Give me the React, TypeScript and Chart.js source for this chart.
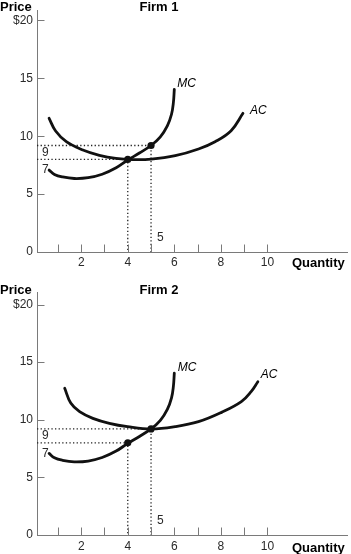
import React, { useEffect, useRef } from "react";
import { Chart, registerables } from "chart.js";

Chart.register(...registerables);

// ---------- data ----------
const QUANTITY_TICKS = [2, 4, 6, 8, 10];
const QUANTITY_MARKS = [1, 2, 3, 4, 5, 6, 7, 8, 9, 10];
const PRICE_TICKS = [0, 5, 10, 15, 20];
const PRICE_TICK_LABELS = ["0", "5", "10", "15", "$20"];

// Marginal cost (same for both firms)
const MC_Q = [0.62, 0.85, 1.2, 1.7, 2.3, 2.9, 3.5, 4.0, 4.5, 5.0, 5.4, 5.7, 5.88, 5.96, 6.0];
const MC_P = [7.08, 6.7, 6.48, 6.35, 6.42, 6.72, 7.28, 7.95, 8.55, 9.2, 9.95, 10.9, 11.9, 12.9, 14.05];

// Average cost, Firm 1
const AC1_Q = [0.62, 0.9, 1.36, 2.07, 2.78, 3.49, 4.2, 5.01, 6.04, 7.04, 7.75, 8.44, 8.95];
const AC1_P = [11.55, 10.45, 9.53, 8.81, 8.35, 8.08, 7.98, 8.02, 8.32, 8.9, 9.53, 10.48, 11.98];

// Average cost, Firm 2
const AC2_Q = [1.29, 1.55, 1.93, 2.5, 3.21, 3.99, 5.01, 6.04, 7.04, 8.03, 8.88, 9.3, 9.59];
const AC2_P = [12.73, 11.45, 10.7, 10.12, 9.69, 9.4, 9.2, 9.4, 9.83, 10.64, 11.57, 12.44, 13.3];

// Marked points
const DOT_Q = [4, 5];
const DOT1_P = [8, 9.2];
const DOT2_P = [8, 9.2];

const POINT_LABELS = ["7", "9", "5"];

// ---------- styling ----------
const FONT = "'Liberation Sans', Arial, Helvetica, sans-serif";
const AXIS_COLOR = "#7a7a7a";
const TEXT_COLOR = "#2a2a2a";
const CURVE_COLOR = "#111111";
const X_MIN = 0.1;
const X_MAX = 13.42;
const TICK_SIZE = 12;

Chart.defaults.font.family = FONT;

type TextItem = {
  text: string;
  font: string;
  color?: string;
  align?: CanvasTextAlign;
  px?: number;
  py?: number;
  x?: number;
  y?: number;
  dx?: number;
  dy?: number;
};

const econPlugin = {
  id: "econ",
  afterDatasetsDraw(chart: any, _args: any, opts: any) {
    const ctx: CanvasRenderingContext2D = chart.ctx;
    const xs = chart.scales.x;
    const ys = chart.scales.y;
    ctx.save();
    // inward tick marks
    ctx.strokeStyle = AXIS_COLOR;
    ctx.lineWidth = 1;
    ctx.beginPath();
    const bottom = Math.round(ys.bottom) + 0.5;
    for (const v of QUANTITY_MARKS) {
      const x = Math.round(xs.getPixelForValue(v)) + 0.5;
      ctx.moveTo(x, bottom);
      ctx.lineTo(x, bottom - 8);
    }
    const left = Math.round(xs.left) + 0.5;
    for (const v of PRICE_TICKS) {
      if (v === 0) continue;
      const y = Math.round(ys.getPixelForValue(v)) + 0.5;
      ctx.moveTo(left, y);
      ctx.lineTo(left + 7, y);
    }
    ctx.stroke();
    // texts
    const texts: TextItem[] = opts.texts || [];
    for (const t of texts) {
      ctx.font = t.font;
      ctx.fillStyle = t.color || "#000";
      ctx.textAlign = t.align || "left";
      ctx.textBaseline = "middle";
      const x = t.px !== undefined ? t.px : xs.getPixelForValue(t.x) + (t.dx || 0);
      const y = t.py !== undefined ? t.py : ys.getPixelForValue(t.y) + (t.dy || 0);
      ctx.fillText(t.text, x, y);
    }
    ctx.restore();
  },
};

type Spec = {
  title: string;
  acQ: number[];
  acP: number[];
  dotP: number[];
  yMax: number;
  padTop: number;
  xAxisH: number;
  xPad: number;
  headY: number;
  quantDy: number;
  mcOff: [number, number];
  acOff: [number, number];
  nineDy: number;
  sevenDy: number;
  fiveDy: number;
};

function pts(qs: number[], ps: number[]) {
  return qs.map((q, i) => ({ x: q, y: ps[i] }));
}

function buildConfig(spec: Spec): any {
  const guideStyle = {
    borderColor: "#222",
    borderWidth: 1.3,
    borderDash: [1.3, 2.3],
    pointRadius: 0,
    tension: 0,
    fill: false,
  };
  const curveStyle = {
    borderColor: CURVE_COLOR,
    borderWidth: 2.8,
    pointRadius: 0,
    tension: 0.4,
    fill: false,
    borderCapStyle: "round",
  };
  const guides = DOT_Q.map((q, i) => ({
    ...guideStyle,
    label: "guide" + i,
    data: [
      { x: X_MIN, y: spec.dotP[i] },
      { x: q, y: spec.dotP[i] },
      { x: q, y: 0 },
    ],
  }));
  const lastMC = MC_Q.length - 1;
  const lastAC = spec.acQ.length - 1;
  const small = `${TICK_SIZE}px ${FONT}`;
  const texts: TextItem[] = [
    { text: "Price", font: `bold 13px ${FONT}`, px: 0, py: spec.headY },
    { text: spec.title, font: `bold 13px ${FONT}`, px: 159, py: spec.headY, align: "center" },
    { text: "Quantity", font: `bold 13px ${FONT}`, px: 292, y: 0, dy: spec.quantDy },
    {
      text: "MC",
      font: `italic 12px ${FONT}`,
      x: MC_Q[lastMC],
      y: MC_P[lastMC],
      dx: spec.mcOff[0],
      dy: spec.mcOff[1],
    },
    {
      text: "AC",
      font: `italic 12px ${FONT}`,
      x: spec.acQ[lastAC],
      y: spec.acP[lastAC],
      dx: spec.acOff[0],
      dy: spec.acOff[1],
    },
    { text: POINT_LABELS[1], font: small, color: TEXT_COLOR, px: 42, y: spec.dotP[1], dy: spec.nineDy },
    { text: POINT_LABELS[0], font: small, color: TEXT_COLOR, px: 42, y: spec.dotP[0], dy: spec.sevenDy },
    { text: POINT_LABELS[2], font: small, color: TEXT_COLOR, x: DOT_Q[1], dx: 6, y: 0, dy: spec.fiveDy },
  ];
  return {
    type: "line",
    data: {
      datasets: [
        {
          label: "points",
          data: pts(DOT_Q, spec.dotP),
          showLine: false,
          pointRadius: 3.6,
          pointBackgroundColor: CURVE_COLOR,
          pointBorderColor: CURVE_COLOR,
          pointBorderWidth: 0,
        },
        { ...curveStyle, label: "MC", data: pts(MC_Q, MC_P) },
        { ...curveStyle, label: "AC", data: pts(spec.acQ, spec.acP) },
        ...guides,
      ],
    },
    options: {
      animation: false,
      responsive: false,
      events: [],
      layout: { padding: { top: spec.padTop, right: 1, left: 0, bottom: 0 } },
      plugins: {
        legend: { display: false },
        tooltip: { enabled: false },
        title: { display: false },
        econ: { texts },
      },
      scales: {
        x: {
          type: "linear",
          min: X_MIN,
          max: X_MAX,
          grid: { display: false, drawTicks: false, tickLength: 0 },
          border: { display: true, color: AXIS_COLOR, width: 1 },
          ticks: {
            color: TEXT_COLOR,
            font: { size: TICK_SIZE, family: FONT },
            padding: spec.xPad,
            maxRotation: 0,
            autoSkip: false,
          },
          afterBuildTicks: (s: any) => {
            s.ticks = QUANTITY_TICKS.map((v) => ({ value: v }));
          },
          afterFit: (s: any) => {
            s.height = spec.xAxisH;
            s.paddingLeft = 0;
            s.paddingRight = 0;
          },
        },
        y: {
          type: "linear",
          min: 0,
          max: spec.yMax,
          grid: { display: false, drawTicks: false, tickLength: 0 },
          border: { display: true, color: AXIS_COLOR, width: 1 },
          ticks: {
            color: TEXT_COLOR,
            font: { size: TICK_SIZE, family: FONT },
            padding: 4,
            autoSkip: false,
            callback: (v: number) => {
              const i = PRICE_TICKS.indexOf(v);
              return i >= 0 ? PRICE_TICK_LABELS[i] : "";
            },
          },
          afterBuildTicks: (s: any) => {
            s.ticks = PRICE_TICKS.map((v) => ({ value: v }));
          },
          afterFit: (s: any) => {
            s.width = 37;
            s.paddingTop = 0;
            s.paddingBottom = 0;
          },
        },
      },
    },
    plugins: [econPlugin],
  };
}

const FIRM1: Spec = {
  title: "Firm 1",
  acQ: AC1_Q,
  acP: AC1_P,
  dotP: DOT1_P,
  yMax: 20.907,
  padTop: 10,
  xAxisH: 20,
  xPad: 3,
  headY: 7,
  quantDy: 11.3,
  mcOff: [3, -6],
  acOff: [7, -3],
  nineDy: 7,
  sevenDy: 10,
  fiveDy: -14.5,
};

const FIRM2: Spec = {
  title: "Firm 2",
  acQ: AC2_Q,
  acP: AC2_P,
  dotP: DOT2_P,
  yMax: 21.085,
  padTop: 20,
  xAxisH: 19,
  xPad: 4,
  headY: 18,
  quantDy: 13.3,
  mcOff: [3.4, -5.6],
  acOff: [3, -6.7],
  nineDy: 6.7,
  sevenDy: 10.5,
  fiveDy: -14.3,
};

function FirmChart({ spec, top, height }: { spec: Spec; top: number; height: number }) {
  const ref = useRef<HTMLCanvasElement>(null);
  useEffect(() => {
    if (!ref.current) return;
    const chart = new Chart(ref.current, buildConfig(spec));
    return () => chart.destroy();
  }, [spec]);
  return (
    <div style={{ position: "absolute", left: 0, top, width: 351, height }}>
      <canvas ref={ref} width={351} height={height} style={{ display: "block" }} />
    </div>
  );
}

export default function App() {
  return (
    <div
      style={{
        position: "fixed",
        left: 0,
        top: 0,
        width: 351,
        height: 554,
        background: "#fff",
        overflow: "hidden",
      }}
    >
      <FirmChart spec={FIRM1} top={0} height={272} />
      <FirmChart spec={FIRM2} top={272} height={282} />
    </div>
  );
}
